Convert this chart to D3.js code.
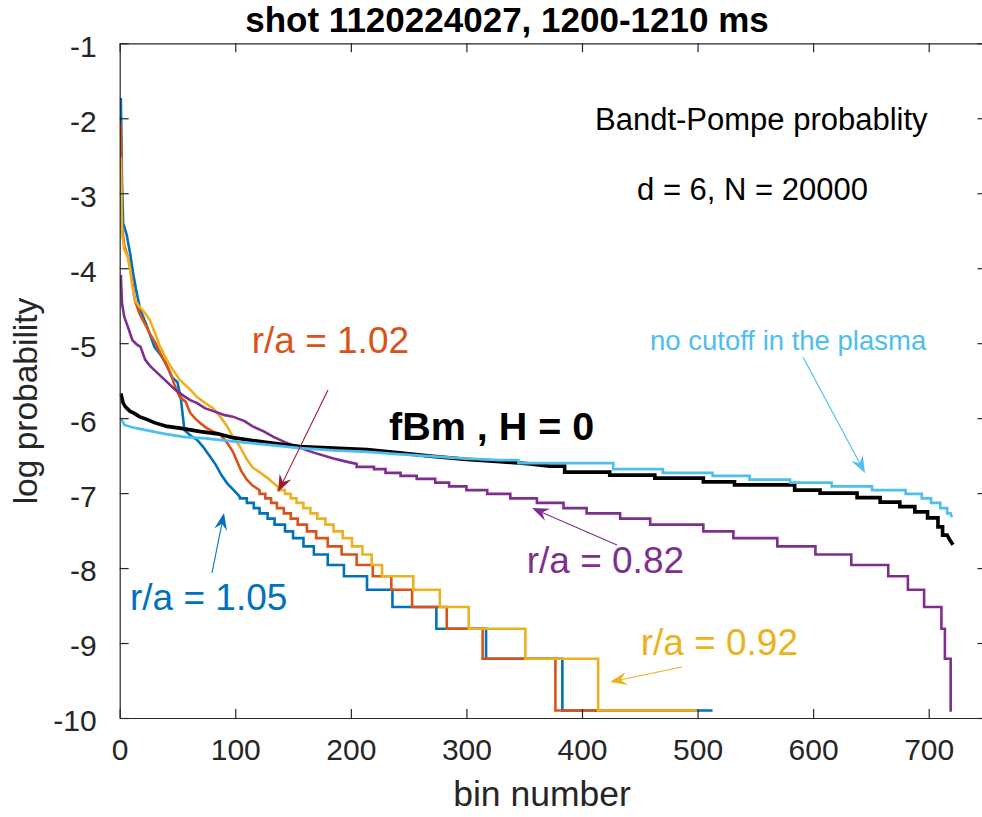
<!DOCTYPE html>
<html>
<head>
<meta charset="utf-8">
<script src="https://cdn.jsdelivr.net/npm/d3@7"></script>
<style>
  html, body { margin: 0; padding: 0; background: #fff; }
  svg { display: block; font-family: "Liberation Sans", Arial, Helvetica, sans-serif; }
</style>
</head>
<body>
<svg id="chart" width="982" height="817"></svg>
<script>
// Sorted Bandt-Pompe pattern probabilities (natural log), d = 6, N = 20000.
// Each series is a list of [bin, log probability] vertices.
const xTicks = [0, 100, 200, 300, 400, 500, 600, 700];
const yTicks = [-1, -2, -3, -4, -5, -6, -7, -8, -9, -10];

const ra105 = [[1,-1.73],[2,-2.85],[3,-3.40],[6,-3.55],[9,-3.80],[12,-4.10],[15,-4.35],[18,-4.56],[23,-4.75],[30,-5.05],[35,-5.15],[40,-5.27],[45,-5.45],[50,-5.52],[53,-5.75],[56,-6.16],[62,-6.24],[67,-6.29],[72,-6.38],[78,-6.51],[83,-6.62],[88,-6.76],[93,-6.87],[98,-6.95],[104,-7.05],
  [104,-7.07],[110,-7.07],[110,-7.13],[116,-7.13],[116,-7.20],[121,-7.20],[121,-7.27],[128,-7.27],[128,-7.34],[134,-7.34],[134,-7.42],[143,-7.42],[143,-7.51],[150,-7.51],[150,-7.60],[159,-7.60],[159,-7.71],[168,-7.71],[168,-7.82],[180,-7.82],[180,-7.96],[194,-7.96],[194,-8.11],[214,-8.11],[214,-8.29],[236,-8.29],[236,-8.52],[274,-8.52],[274,-8.81],[317,-8.81],[317,-9.21],[383,-9.21],[383,-9.90],[513,-9.90]];

const ra102 = [[1,-2.07],[2,-3.45],[4,-3.70],[7,-3.85],[9,-3.98],[11,-4.20],[13,-4.42],[17,-4.60],[22,-4.75],[26,-4.87],[31,-5.00],[35,-5.13],[40,-5.28],[44,-5.40],[48,-5.58],[52,-5.72],[57,-5.78],[61,-5.93],[65,-6.00],[70,-6.07],[75,-6.13],[81,-6.18],[87,-6.22],[93,-6.33],[98,-6.45],[101,-6.56],[105,-6.70],[110,-6.82],[115,-6.90],[121,-6.96],
  [121,-7.01],[126,-7.01],[126,-7.07],[131,-7.07],[131,-7.13],[136,-7.13],[136,-7.20],[142,-7.20],[142,-7.27],[148,-7.27],[148,-7.34],[154,-7.34],[154,-7.42],[162,-7.42],[162,-7.51],[170,-7.51],[170,-7.60],[180,-7.60],[180,-7.71],[192,-7.71],[192,-7.82],[205,-7.82],[205,-7.96],[219,-7.96],[219,-8.11],[235,-8.11],[235,-8.29],[253,-8.29],[253,-8.52],[283,-8.52],[283,-8.81],[314,-8.81],[314,-9.21],[377,-9.21],[377,-9.90],[500,-9.90]];

const ra092 = [[1,-2.52],[2,-3.53],[4,-3.75],[7,-3.85],[9,-4.02],[11,-4.25],[13,-4.42],[17,-4.51],[22,-4.60],[26,-4.69],[31,-4.88],[35,-5.05],[40,-5.20],[44,-5.31],[52,-5.49],[61,-5.62],[67,-5.72],[74,-5.80],[81,-5.87],[88,-6.00],[93,-6.11],[98,-6.25],[104,-6.38],[110,-6.55],[115,-6.66],[121,-6.72],[128,-6.80],[137,-6.92],
  [137,-6.96],[143,-6.96],[143,-7.01],[148,-7.01],[148,-7.07],[153,-7.07],[153,-7.13],[159,-7.13],[159,-7.20],[165,-7.20],[165,-7.27],[171,-7.27],[171,-7.34],[178,-7.34],[178,-7.42],[185,-7.42],[185,-7.51],[193,-7.51],[193,-7.60],[201,-7.60],[201,-7.71],[210,-7.71],[210,-7.82],[218,-7.82],[218,-7.96],[227,-7.96],[227,-8.11],[254,-8.11],[254,-8.29],[277,-8.29],[277,-8.52],[302,-8.52],[302,-8.81],[351,-8.81],[351,-9.21],[414,-9.21],[414,-9.90],[500,-9.90]];

const ra082 = [[1,-4.09],[2,-4.47],[4,-4.65],[7,-4.78],[11,-4.96],[15,-5.02],[18,-5.05],[22,-5.22],[26,-5.30],[30,-5.36],[39,-5.49],[48,-5.62],[55,-5.70],[61,-5.76],[67,-5.80],[74,-5.87],[78,-5.89],[91,-5.96],[98,-5.98],[108,-6.04],[115,-6.11],[125,-6.18],[133,-6.25],[143,-6.32],[153,-6.38],[162,-6.43],[170,-6.47],[185,-6.54],[196,-6.58],[205,-6.61],
  [205,-6.65],[220,-6.65],[220,-6.68],[230,-6.68],[230,-6.73],[243,-6.73],[243,-6.77],[257,-6.77],[257,-6.81],[273,-6.81],[273,-6.86],[285,-6.86],[285,-6.91],[300,-6.91],[300,-6.96],[318,-6.96],[318,-7.01],[338,-7.01],[338,-7.07],[361,-7.07],[361,-7.13],[384,-7.13],[384,-7.20],[404,-7.20],[404,-7.27],[433,-7.27],[433,-7.34],[459,-7.34],[459,-7.42],[505,-7.42],[505,-7.51],[531,-7.51],[531,-7.60],[569,-7.60],[569,-7.71],[602,-7.71],[602,-7.82],[633,-7.82],[633,-7.96],[665,-7.96],[665,-8.11],[682,-8.11],[682,-8.29],[696,-8.29],[696,-8.52],[711,-8.52],[711,-8.81],[714,-8.81],[714,-9.21],[719,-9.21],[719,-9.90],[720,-9.90]];

const fbmH0 = [[1,-5.67],[3,-5.80],[5,-5.85],[9,-5.91],[12,-5.93],[17,-5.98],[24,-6.02],[30,-6.06],[41,-6.11],[55,-6.14],[70,-6.18],[85,-6.21],[98,-6.26],[125,-6.32],[156,-6.38],[185,-6.40],[214,-6.42],[240,-6.46],[271,-6.51],[300,-6.55],[329,-6.58],[355,-6.61],[372,-6.64],
  [385,-6.64],[385,-6.72],[424,-6.72],[424,-6.76],[463,-6.76],[463,-6.80],[505,-6.80],[505,-6.85],[532,-6.85],[532,-6.89],[584,-6.89],[584,-6.96],[606,-6.96],[606,-7.00],[638,-7.00],[638,-7.06],[658,-7.06],[658,-7.12],[675,-7.12],[675,-7.18],[688,-7.18],[688,-7.25],[699,-7.25],[699,-7.33],[708,-7.33],[708,-7.45],[712,-7.45],[712,-7.56],[716,-7.56],[718,-7.62],[721,-7.69]];

const noCutoff = [[1,-6.00],[4,-6.09],[13,-6.13],[26,-6.17],[39,-6.21],[55,-6.25],[74,-6.27],[98,-6.31],[125,-6.35],[156,-6.40],[185,-6.43],[214,-6.45],[240,-6.48],[271,-6.51],[300,-6.54],[329,-6.56],
  [345,-6.56],[345,-6.60],[427,-6.60],[427,-6.68],[470,-6.68],[470,-6.73],[513,-6.73],[513,-6.77],[545,-6.77],[545,-6.82],[580,-6.82],[580,-6.86],[616,-6.86],[616,-6.91],[651,-6.91],[651,-6.96],[680,-6.96],[680,-7.01],[694,-7.01],[694,-7.07],[702,-7.07],[702,-7.13],[710,-7.13],[710,-7.20],[716,-7.20],[716,-7.27],[719,-7.27],[720,-7.32]];

const seriesList = [
  { data: ra105,    color: "#0072BD", width: 2.6 },
  { data: ra102,    color: "#D95319", width: 2.6 },
  { data: ra092,    color: "#EDB120", width: 2.6 },
  { data: ra082,    color: "#7E2F8E", width: 2.6 },
  { data: fbmH0,    color: "#000000", width: 3.6 },
  { data: noCutoff, color: "#4DBEEE", width: 2.6 }
];

const svg = d3.select("#chart");
const plot = { left: 119.7, right: 986.5, top: 43.3, bottom: 718 };
const x = d3.scaleLinear().domain([0, 750]).range([plot.left, plot.right]);
const y = d3.scaleLinear().domain([-10, -1]).range([plot.bottom, plot.top]);
const axisColor = "#262626";

svg.append("defs").append("clipPath").attr("id", "plotClip")
  .append("rect").attr("x", plot.left).attr("y", plot.top)
  .attr("width", plot.right - plot.left).attr("height", plot.bottom - plot.top);

// curves
const line = d3.line().x(d => x(d[0])).y(d => y(d[1]));
const curves = svg.append("g").attr("clip-path", "url(#plotClip)");
seriesList.forEach(s => {
  curves.append("path").datum(s.data)
    .attr("d", line)
    .attr("fill", "none")
    .attr("stroke", s.color)
    .attr("stroke-width", s.width)
    .attr("stroke-linejoin", "miter")
    .attr("stroke-miterlimit", 2);
});

// axes (box with inward ticks)
function styleAxis(g) {
  g.selectAll("path.domain").attr("stroke", axisColor).attr("stroke-width", 1.2);
  g.selectAll(".tick line").attr("stroke", axisColor).attr("stroke-width", 1.2);
  g.selectAll(".tick text").attr("fill", axisColor)
    .style("font-size", "30px").style("font-family", "'Liberation Sans', Arial, Helvetica, sans-serif");
}
const fmt = d => String(d).replace("\u2212", "-");

svg.append("g").attr("transform", `translate(0,${plot.bottom})`)
  .call(d3.axisBottom(x).tickValues(xTicks).tickFormat(fmt).tickSizeInner(-9).tickSizeOuter(0).tickPadding(20.5))
  .call(styleAxis)
  .selectAll(".tick text").attr("dy", "0.71em");

svg.append("g").attr("transform", `translate(0,${plot.top})`)
  .call(d3.axisTop(x).tickValues(xTicks).tickFormat("").tickSizeInner(-9).tickSizeOuter(0))
  .call(styleAxis);

svg.append("g").attr("transform", `translate(${plot.left},0)`)
  .call(d3.axisLeft(y).tickValues(yTicks).tickFormat(fmt).tickSizeInner(-9).tickSizeOuter(0).tickPadding(23))
  .call(styleAxis)
  .selectAll(".tick text").attr("dy", "0.43em");

svg.append("g").attr("transform", `translate(${plot.right},0)`)
  .call(d3.axisRight(y).tickValues(yTicks).tickFormat("").tickSizeInner(-9).tickSizeOuter(0))
  .call(styleAxis);

// title and axis labels
svg.append("text").attr("x", 507).attr("y", 32).attr("text-anchor", "middle")
  .attr("font-size", 35).attr("font-weight", "bold").attr("fill", "#000")
  .text("shot 1120224027, 1200-1210 ms");

svg.append("text").attr("x", 542).attr("y", 806).attr("text-anchor", "middle")
  .attr("font-size", 35.5).attr("fill", axisColor).text("bin number");

svg.append("text").attr("transform", "translate(37,401) rotate(-90)").attr("text-anchor", "middle")
  .attr("font-size", 33.5).attr("fill", axisColor).text("log probability");

// annotation text
const notes = [
  { t: "Bandt-Pompe probablity", x: 595, y: 130, a: "start", s: 31, c: "#000", w: "normal" },
  { t: "d = 6, N = 20000",       x: 868, y: 200, a: "end",   s: 31, c: "#000", w: "normal" },
  { t: "no cutoff in the plasma", x: 650, y: 350, a: "start", s: 27.5, c: "#4DBEEE", w: "normal" },
  { t: "fBm , H = 0",            x: 389, y: 440, a: "start", s: 39.5, c: "#000", w: "bold" },
  { t: "r/a = 1.02",             x: 251.7, y: 353, a: "start", s: 37, c: "#D95319", w: "normal" },
  { t: "r/a = 0.82",             x: 526.7, y: 573, a: "start", s: 37, c: "#7E2F8E", w: "normal" },
  { t: "r/a = 1.05",             x: 130, y: 610, a: "start", s: 37, c: "#0072BD", w: "normal" },
  { t: "r/a = 0.92",             x: 798, y: 655, a: "end",   s: 37, c: "#EDB120", w: "normal" }
];
notes.forEach(n => {
  svg.append("text").attr("x", n.x).attr("y", n.y).attr("text-anchor", n.a)
    .attr("font-size", n.s).attr("font-weight", n.w).attr("fill", n.c).text(n.t);
});

// annotation arrows: [tailX, tailY, tipX, tipY, colour]
const arrows = [
  [328, 390, 278, 492, "#A2142F"],
  [212, 573, 224, 513, "#0072BD"],
  [617, 545, 532, 508, "#7E2F8E"],
  [682, 667, 610, 682, "#EDB120"],
  [803, 357, 865, 473, "#4DBEEE"]
];
const ag = svg.append("g");
arrows.forEach(([x0, y0, x1, y1, col]) => {
  const dx = x1 - x0, dy = y1 - y0, len = Math.hypot(dx, dy);
  const ux = dx / len, uy = dy / len, nx = -uy, ny = ux;
  const L = 17, W = 6.5, notch = 11;
  ag.append("line").attr("x1", x0).attr("y1", y0)
    .attr("x2", x1 - ux * notch).attr("y2", y1 - uy * notch)
    .attr("stroke", col).attr("stroke-width", 1.1);
  const pts = [
    [x1, y1],
    [x1 - ux * L + nx * W, y1 - uy * L + ny * W],
    [x1 - ux * notch, y1 - uy * notch],
    [x1 - ux * L - nx * W, y1 - uy * L - ny * W]
  ];
  ag.append("polygon").attr("points", pts.map(p => p.join(",")).join(" ")).attr("fill", col);
});
</script>
</body>
</html>
